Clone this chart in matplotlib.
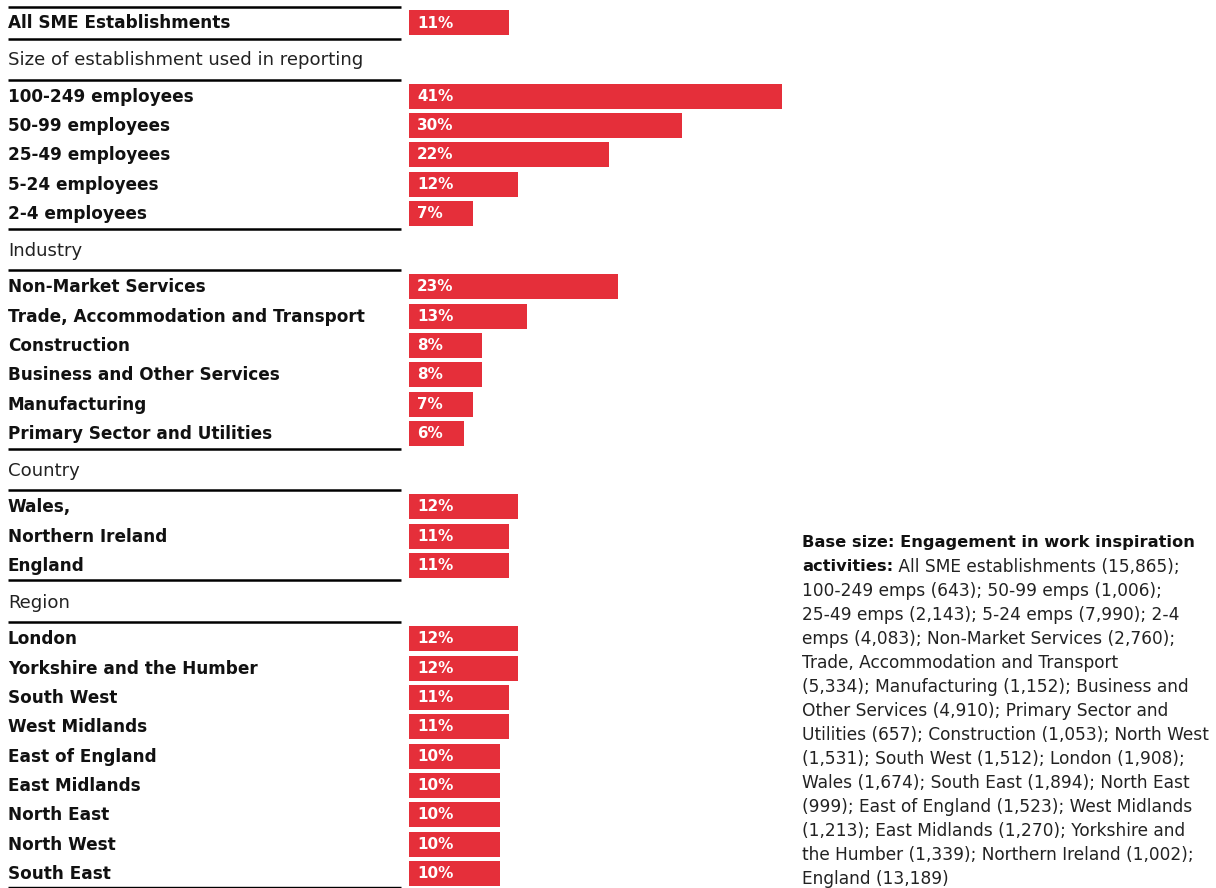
import matplotlib
matplotlib.use("Agg")
import matplotlib.pyplot as plt

# ---------------- data ----------------
overall_label = "All SME Establishments"
overall_value = 11

size_header = "Size of establishment used in reporting"
size_labels = ["100-249 employees", "50-99 employees", "25-49 employees",
               "5-24 employees", "2-4 employees"]
size_values = [41, 30, 22, 12, 7]

industry_header = "Industry"
industry_labels = ["Non-Market Services", "Trade, Accommodation and Transport",
                   "Construction", "Business and Other Services",
                   "Manufacturing", "Primary Sector and Utilities"]
industry_values = [23, 13, 8, 8, 7, 6]

country_header = "Country"
country_labels = ["Wales,", "Northern Ireland", "England"]
country_values = [12, 11, 11]

region_header = "Region"
region_labels = ["London", "Yorkshire and the Humber", "South West", "West Midlands",
                 "East of England", "East Midlands", "North East", "North West",
                 "South East"]
region_values = [12, 12, 11, 11, 10, 10, 10, 10, 10]

note_bold = "Base size: Engagement in work inspiration"
note_bold2 = "activities:"
note_lines = [
    " All SME establishments (15,865);",
    "100-249 emps (643); 50-99 emps (1,006);",
    "25-49 emps (2,143); 5-24 emps (7,990); 2-4",
    "emps (4,083); Non-Market Services (2,760);",
    "Trade, Accommodation and Transport",
    "(5,334); Manufacturing (1,152); Business and",
    "Other Services (4,910); Primary Sector and",
    "Utilities (657); Construction (1,053); North West",
    "(1,531); South West (1,512); London (1,908);",
    "Wales (1,674); South East (1,894); North East",
    "(999); East of England (1,523); West Midlands",
    "(1,213); East Midlands (1,270); Yorkshire and",
    "the Humber (1,339); Northern Ireland (1,002);",
    "England (13,189)",
]

# ---------------- style ----------------
RED = "#E52F3A"
FONT = ["DejaVu Sans"]
W, H = 1216, 888
PX_PER_PCT = 373 / 41          # horizontal scale of bars
BAR_LEFT_PX = 409
ROW = 29.35
GAP = 36.6
BAR_H = 25
TXT_DY = -1.5

fig = plt.figure(figsize=(W / 100, H / 100), dpi=100)
ax = fig.add_axes([0, 0, 1, 1])
ax.set_xlim(-BAR_LEFT_PX / PX_PER_PCT, (W - BAR_LEFT_PX) / PX_PER_PCT)
ax.set_ylim(H, 0)
ax.axis("off")
renderer = fig.canvas.get_renderer()

def fit_size(text, weight, target_px, base=12.0):
    t = fig.text(0, 0, text, fontsize=base, fontweight=weight, family=FONT)
    w = t.get_window_extent(renderer=renderer).width
    t.remove()
    return base * target_px / w

FS_LABEL = fit_size("Trade, Accommodation and Transport", "bold", 356)
FS_HDR = fit_size(size_header, "normal", 355)
FS_PCT = fit_size("41%", "bold", 36)
FS_NOTE_B = fit_size(note_bold, "bold", 390)
FS_NOTE = fit_size("Utilities (657); Construction (1,053); North West", "normal", 408)

def px(xp):
    return (xp - BAR_LEFT_PX) / PX_PER_PCT

LX0, LX1 = px(8), px(401)
LABEL_X = px(8)

def hline(y, lw=1.8):
    ax.plot([LX0, LX1], [y, y], color="black", lw=lw, solid_capstyle="butt")

def draw_rows(labels, values, y_start):
    ys = [y_start + i * ROW for i in range(len(labels))]
    ax.barh(ys, values, height=BAR_H, left=0, color=RED)
    for y, lab, v in zip(ys, labels, values):
        ax.text(LABEL_X, y + TXT_DY, lab, fontsize=FS_LABEL, fontweight="bold", family=FONT,
                va="center_baseline", ha="left", color="#111111")
        ax.text(px(417), y + TXT_DY, f"{v}%", fontsize=FS_PCT, fontweight="bold", family=FONT,
                va="center_baseline", ha="left", color="white")
    return ys[-1]

def header(text, y):
    ax.text(LABEL_X, y + TXT_DY, text, fontsize=FS_HDR, fontweight="normal", family=FONT,
            va="center_baseline", ha="left", color="#222222")

y = 23
hline(y - 16)
last = draw_rows([overall_label], [overall_value], y)
hline(last + 16)

groups = [(size_header, size_labels, size_values),
          (industry_header, industry_labels, industry_values),
          (country_header, country_labels, country_values),
          (region_header, region_labels, region_values)]
for gi, (hdr, labs, vals) in enumerate(groups):
    hy = last + GAP
    header(hdr, hy)
    hline(hy + 20)
    last = draw_rows(labs, vals, hy + GAP)
    if gi < len(groups) - 1:
        hline(last + 15)
    else:
        hline(last + 13.5, lw=1.0)

# ---------------- note ----------------
NX = px(802)
NY0 = 541
NSTEP = 24
ax.text(NX, NY0, note_bold, fontsize=FS_NOTE_B, fontweight="bold", family=FONT,
        va="center_baseline", ha="left", color="#111111")
t = ax.text(NX, NY0 + NSTEP, note_bold2, fontsize=FS_NOTE_B, fontweight="bold", family=FONT,
            va="center_baseline", ha="left", color="#111111")
fig.canvas.draw()
bb = t.get_window_extent(renderer=renderer)
x_after = ax.transData.inverted().transform((bb.x1, 0))[0]
for i, line in enumerate(note_lines):
    ax.text(x_after if i == 0 else NX, NY0 + NSTEP * (i + 1), line, fontsize=FS_NOTE,
            family=FONT, va="center_baseline", ha="left", color="#222222")

fig.savefig("out.png", dpi=100)
